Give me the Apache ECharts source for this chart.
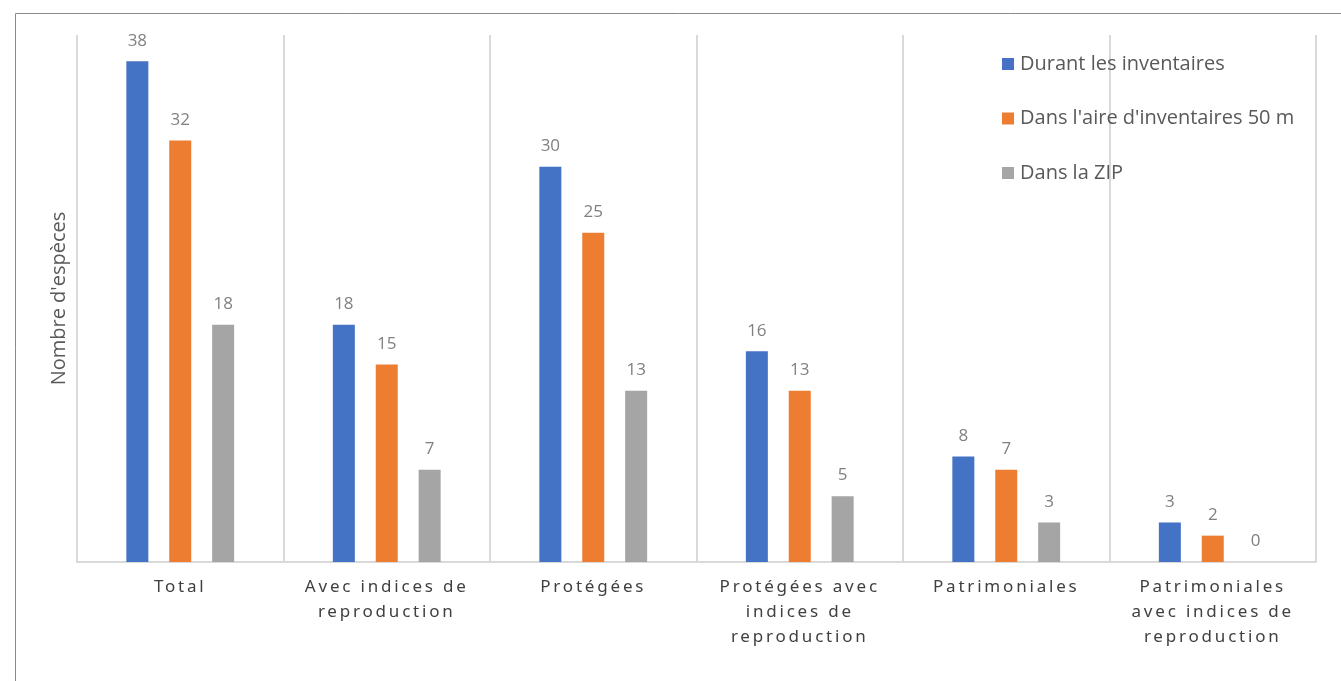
<!DOCTYPE html>
<html><head><meta charset="utf-8">
<script src="https://cdn.jsdelivr.net/npm/echarts@6/dist/echarts.min.js"></script>
<style>html,body{margin:0;padding:0;background:#fff}#c{width:1341px;height:681px}</style>
</head><body><div id="c"></div>
<script>
// letter spacing for category labels (font family "Noto Sans" used only there)
(function(){
  var proto = CanvasRenderingContext2D.prototype;
  var of = proto.fillText;
  proto.fillText = function(t,x,y,m){
    var had = this.letterSpacing;
    if (this.font && this.font.indexOf('Noto Sans') >= 0 && 'letterSpacing' in this) this.letterSpacing = '2.8px';
    var r = m === undefined ? of.call(this,t,x,y) : of.call(this,t,x,y,m);
    if ('letterSpacing' in this) this.letterSpacing = had || '0px';
    return r;
  };
})();

const categories = ["Total", "Avec indices de\nreproduction", "Protégées", "Protégées avec\nindices de\nreproduction", "Patrimoniales", "Patrimoniales\navec indices de\nreproduction"];
const seriesNames = ["Durant les inventaires", "Dans l'aire d'inventaires 50 m", "Dans la ZIP"];
const durant = [38, 18, 30, 16, 8, 3];
const aire50 = [32, 15, 25, 13, 7, 2];
const zip = [18, 7, 13, 5, 3, 0];
const yAxisName = "Nombre d'espèces";
const colors = ["#4472c4", "#ed7d31", "#a5a5a5"];

const chart = echarts.init(document.getElementById('c'));
const mk = (name, data, color) => ({
  name, type: 'bar', data, barWidth: 22, barGap: '95%',
  itemStyle: { color },
  label: { show: true, position: 'top', distance: 12, color: '#808080', fontSize: 17, fontFamily: 'Open Sans' }
});
chart.setOption({
  animation: false,
  textStyle: { fontFamily: 'Open Sans' },
  graphic: [{ type: 'rect', shape: { x: 15.5, y: 13.5, width: 1500, height: 900 }, style: { fill: 'none', stroke: '#8a8a8a', lineWidth: 1 }, z: -1 }],
  grid: { left: 77, right: 25, top: 35, bottom: 119, containLabel: false },
  legend: {
    orient: 'vertical', left: 997, top: 49, itemWidth: 12, itemHeight: 12, itemGap: 34.5,
    icon: 'rect', data: seriesNames,
    textStyle: { color: '#595959', fontSize: 20, fontFamily: 'Open Sans', padding: [0,0,0,1] }
  },
  xAxis: {
    type: 'category', data: categories,
    axisLine: { lineStyle: { color: '#d9d9d9', width: 2 } },
    axisTick: { show: false },
    splitLine: { show: true, lineStyle: { color: '#d9d9d9', width: 2 } },
    axisLabel: { color: '#404040', fontSize: 17, fontFamily: 'Noto Sans', lineHeight: 25, margin: 13, interval: 0 }
  },
  yAxis: {
    type: 'value', min: 0, max: 40, interval: 10,
    name: yAxisName, nameLocation: 'middle', nameGap: 8, nameRotate: 90,
    nameTextStyle: { color: '#595959', fontSize: 20, fontFamily: 'Open Sans' },
    axisLabel: { show: false }, axisLine: { show: false }, axisTick: { show: false }, splitLine: { show: false }
  },
  series: [mk(seriesNames[0], durant, colors[0]), mk(seriesNames[1], aire50, colors[1]), mk(seriesNames[2], zip, colors[2])]
});
</script></body></html>
